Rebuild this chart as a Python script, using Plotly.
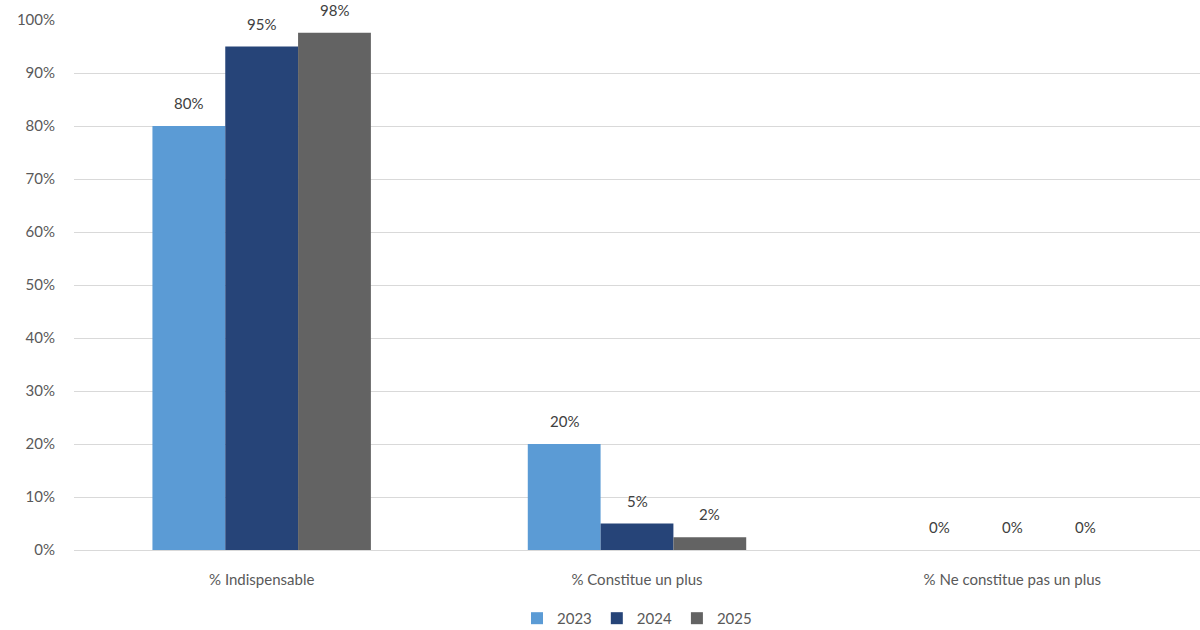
import plotly.graph_objects as go

categories = ["% Indispensable", "% Constitue un plus", "% Ne constitue pas un plus"]
years = ["2023", "2024", "2025"]
values_2023 = [0.80, 0.20, 0.0]
values_2024 = [0.95, 0.05, 0.0]
values_2025 = [0.976, 0.024, 0.0]
colors = ["#5B9BD5", "#264478", "#636363"]

bargap = 0.418
bar_w = (1 - bargap) / len(years)
xpos = list(range(len(categories)))

fig = go.Figure()
series = [values_2023, values_2024, values_2025]
for j, (name, vals, col) in enumerate(zip(years, series, colors)):
    fig.add_trace(go.Bar(
        x=xpos, y=vals, name=name, marker_color=col, marker_line_width=0,
    ))
    for i, v in zip(xpos, vals):
        fig.add_annotation(
            x=i + (j - 1) * bar_w, y=v, xref="x", yref="y",
            text=f"{v:.0%}", showarrow=False, yanchor="bottom", yshift=12,
            font=dict(size=15, color="#404040"),
        )

fig.update_layout(
    width=1200, height=630,
    margin=dict(l=74, r=0, t=20, b=80, autoexpand=False),
    paper_bgcolor="white", plot_bgcolor="white",
    font=dict(family="Lato, Open Sans, sans-serif", size=15, color="#595959"),
    barmode="group", bargap=bargap, bargroupgap=0,
    legend=dict(orientation="h", x=0.5, xanchor="center", y=-0.098, yanchor="top",
                font=dict(size=15, color="#595959"), itemwidth=30),
)
fig.update_yaxes(range=[0, 1], dtick=0.1, tickformat=".0%", showgrid=True,
                 gridcolor="#D9D9D9", gridwidth=1, zeroline=False, showline=False,
                 ticks="", tickfont=dict(size=15), ticklabelstandoff=18, automargin=False)
fig.update_xaxes(range=[-0.5, 2.5], tickvals=xpos, ticktext=categories,
                 showline=True, linecolor="#D9D9D9", linewidth=1, ticks="",
                 showgrid=False, zeroline=False, automargin=False,
                 tickfont=dict(size=15), ticklabelstandoff=16)

fig.write_html("out.html")
